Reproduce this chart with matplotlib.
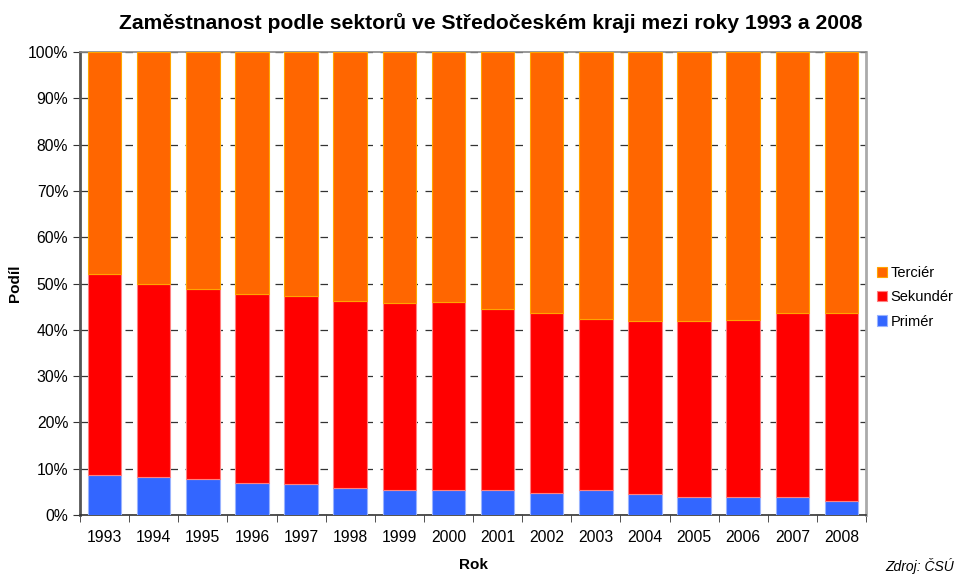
import numpy as np
import matplotlib.pyplot as plt
from matplotlib.ticker import PercentFormatter

plt.rcParams['font.family'] = ['Liberation Sans', 'DejaVu Sans']

roky = ['1993', '1994', '1995', '1996', '1997', '1998', '1999', '2000',
        '2001', '2002', '2003', '2004', '2005', '2006', '2007', '2008']
primer = [8.7, 8.2, 7.7, 7.0, 6.6, 5.9, 5.5, 5.3, 5.5, 4.8, 5.3, 4.6, 3.9, 3.9, 3.8, 3.1]
sekunder = [43.3, 41.7, 41.2, 40.8, 40.8, 40.4, 40.3, 40.6, 39.0, 38.8, 37.0, 37.2, 38.1, 38.3, 39.8, 40.6]
tercier = [100 - p - s for p, s in zip(primer, sekunder)]

fig = plt.figure(figsize=(9.61, 5.74), dpi=100)
ax = fig.add_axes([80 / 961, 59 / 574, 786 / 961, 463 / 574])

x = np.arange(len(roky))
w = 0.68
p = np.array(primer)
s = np.array(sekunder)
ax.bar(x, primer, w, color='#3366FF', edgecolor='#99B3FF', linewidth=0.8, label='Primér', zorder=3)
ax.bar(x, sekunder, w, bottom=p, color='#FF0000', edgecolor='#FF8080', linewidth=0.8, label='Sekundér', zorder=3)
ax.bar(x, tercier, w, bottom=p + s, color='#FF6600', edgecolor='#FFA500', linewidth=0.8, label='Terciér', zorder=3)

ax.set_xlim(-0.5, len(roky) - 0.5)
ax.set_ylim(0, 100)
ax.set_yticks(np.arange(0, 101, 10))
ax.yaxis.set_major_formatter(PercentFormatter(decimals=0))
ax.yaxis.grid(True, color='#333333', linestyle=(0, (6, 6)), linewidth=0.9, zorder=1)
ax.set_xticks(x)
ax.set_xticklabels(roky)
ax.set_xticks(np.arange(-0.5, len(roky), 1), minor=True)
ax.tick_params(axis='x', which='major', length=0, pad=11, labelsize=11.3)
ax.tick_params(axis='x', which='minor', length=5, color='#333333')
ax.tick_params(axis='y', length=5, color='#333333', labelsize=11.3)

ax.spines['left'].set_color('#555555')
ax.spines['left'].set_linewidth(2)
ax.spines['bottom'].set_color('#333333')
ax.spines['bottom'].set_linewidth(1.2)
ax.spines['right'].set_color('#AAAAAA')
ax.spines['right'].set_linewidth(2)
ax.spines['top'].set_color('#888888')
ax.spines['top'].set_linewidth(1.2)

ax.set_xlabel('Rok', fontsize=11, fontweight='bold', labelpad=9)
ax.set_ylabel('Podíl', fontsize=11, fontweight='bold', labelpad=4)
fig.suptitle('Zaměstnanost podle sektorů ve Středočeském kraji mezi roky 1993 a 2008',
             x=0.511, y=0.978, fontsize=15.2, fontweight='bold')

h, l = ax.get_legend_handles_labels()
ax.legend(h[::-1], l[::-1], loc='center left', bbox_to_anchor=(1.0, 0.47), frameon=False,
          fontsize=10.5, handlelength=0.7, handleheight=0.7, handletextpad=0.25,
          labelspacing=0.7, borderaxespad=0.35)

fig.text(0.921, 0.0, 'Zdroj: ČSÚ', fontsize=10, style='italic', ha='left', va='bottom')

fig.savefig('out.png', dpi=100)
